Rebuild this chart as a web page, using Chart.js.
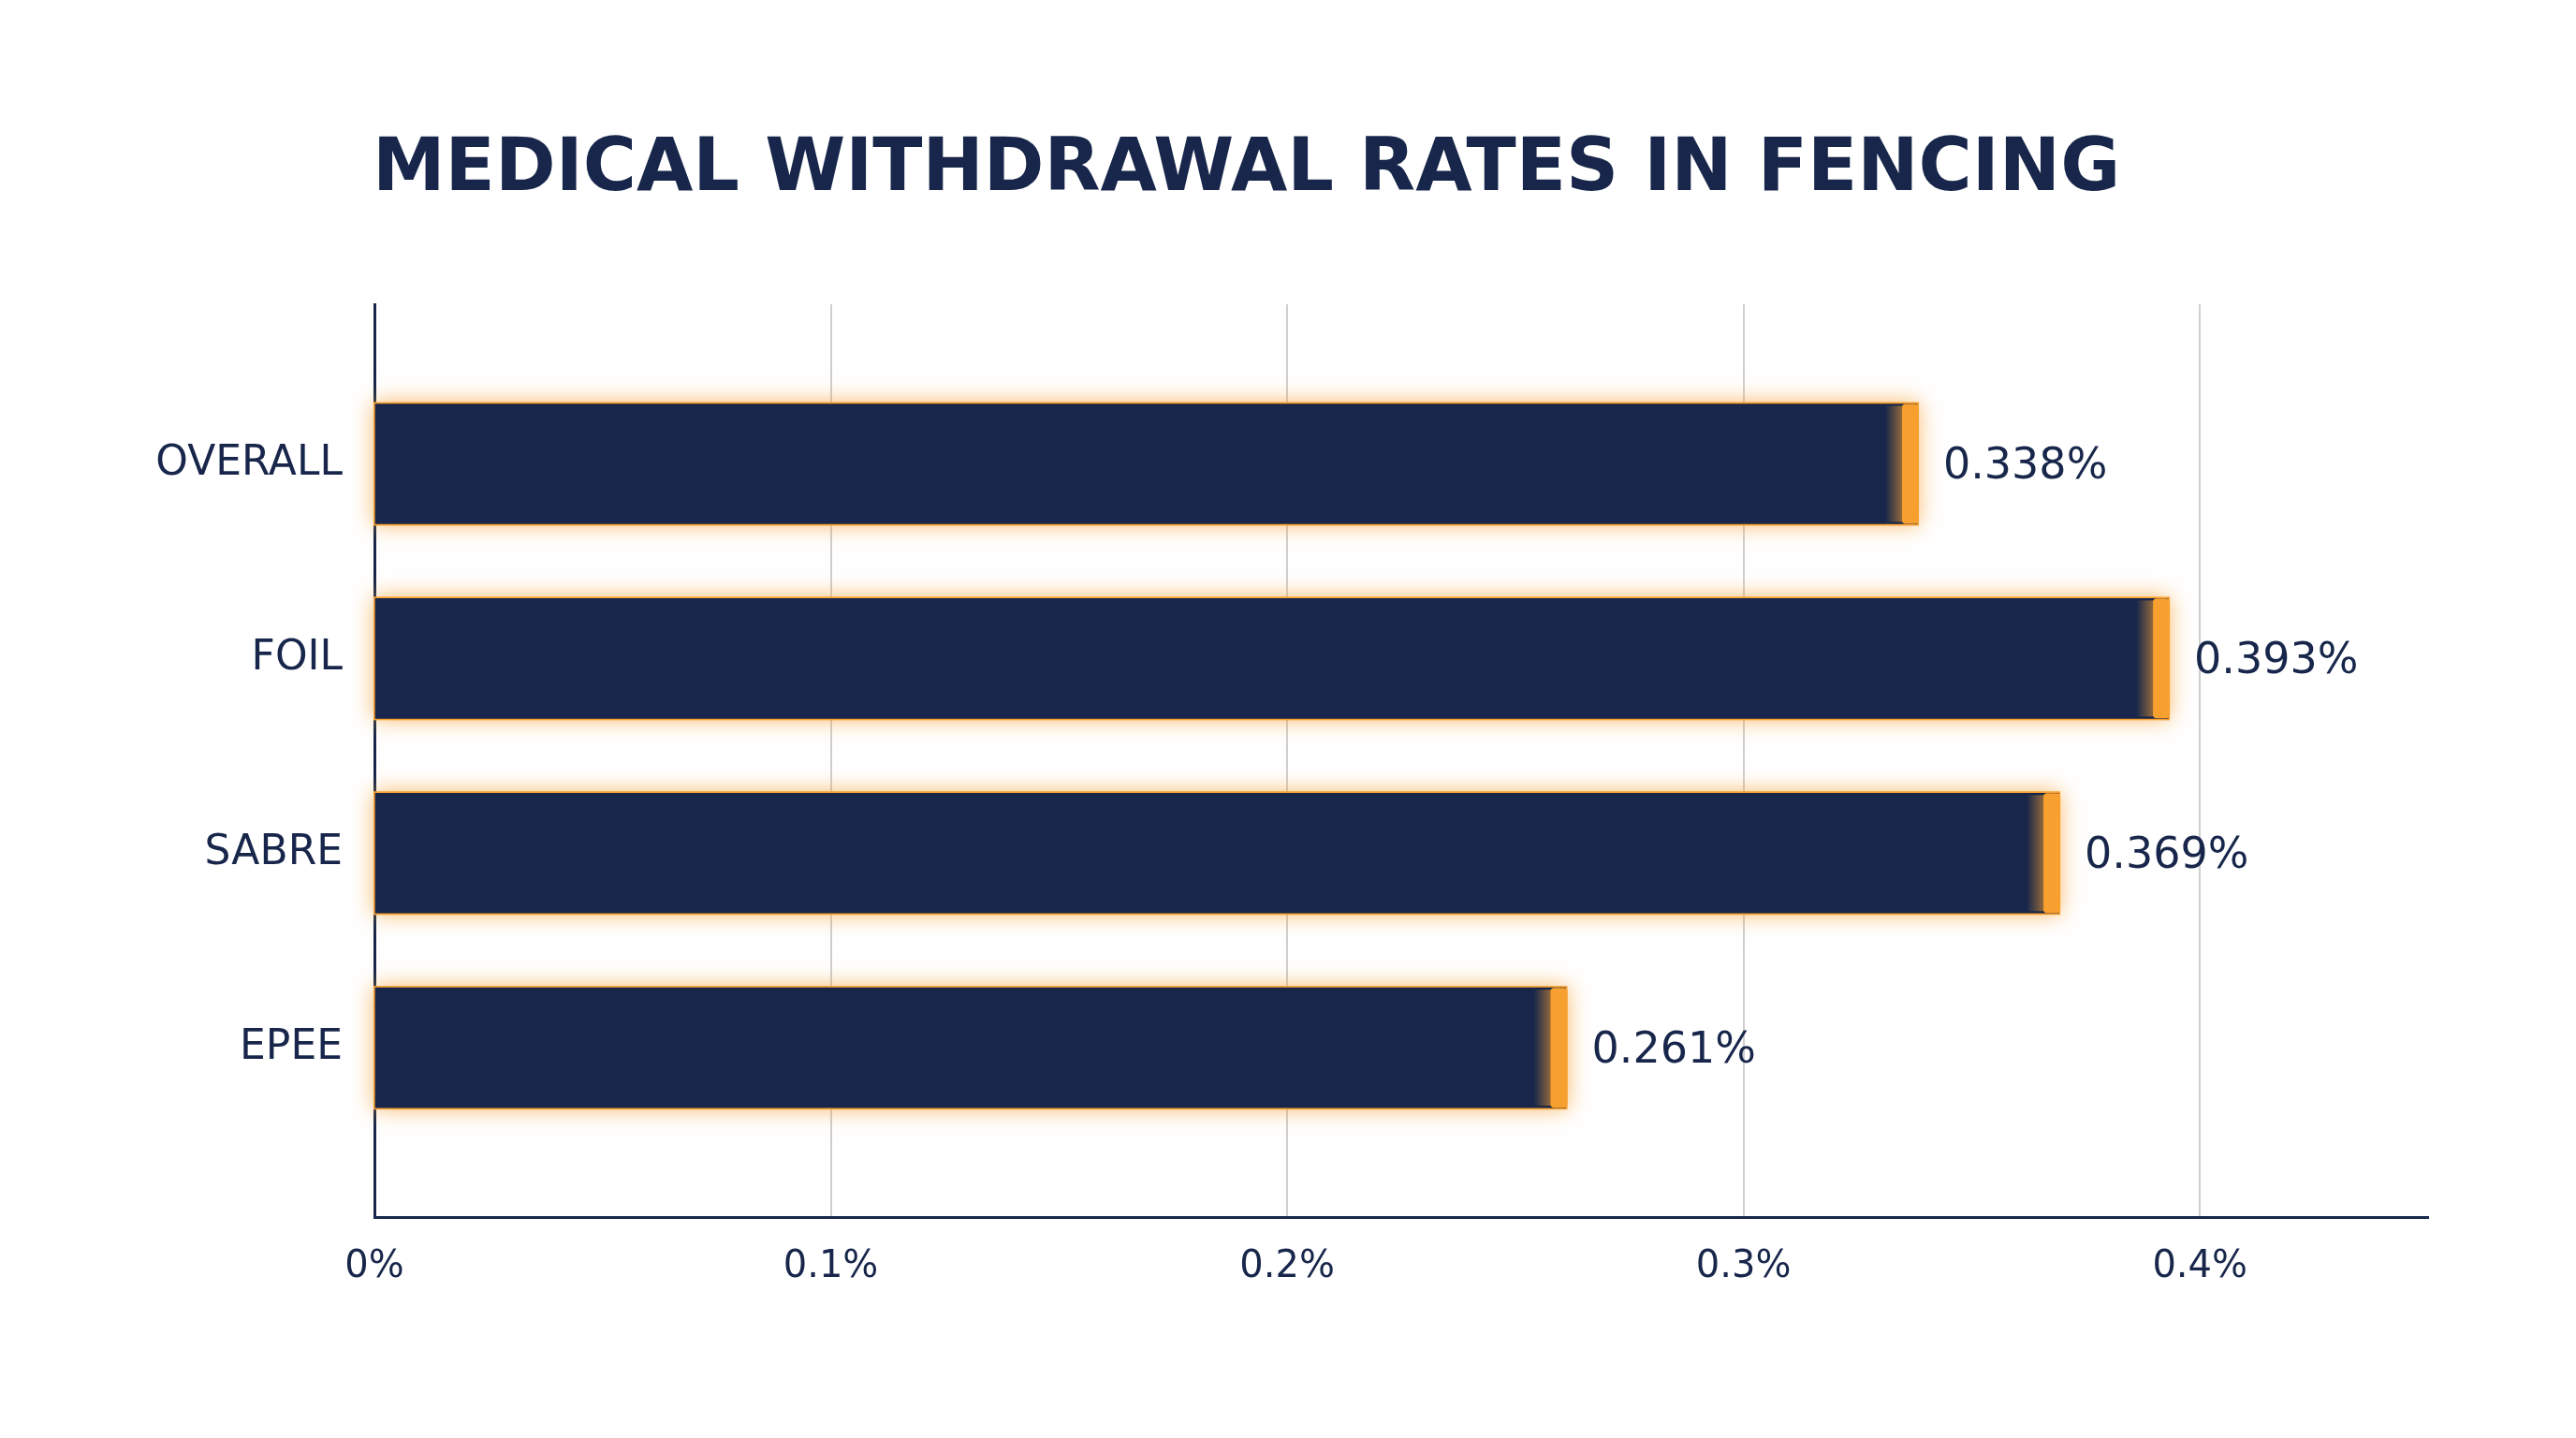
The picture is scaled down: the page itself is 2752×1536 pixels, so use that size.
<!DOCTYPE html>
<html><head><meta charset="utf-8">
<script src="https://cdn.jsdelivr.net/npm/chart.js@4"></script>
<style>html,body{margin:0;padding:0;background:#fff}</style>
</head><body>
<canvas id="c" width="2752" height="1536"></canvas>
<script>
const categories = ["OVERALL", "FOIL", "SABRE", "EPEE"];
const rates = [0.338, 0.393, 0.369, 0.261];
const xTicks = [0, 0.1, 0.2, 0.3, 0.4];
const title = "MEDICAL WITHDRAWAL RATES IN FENCING";

const NAVY = "#17264a", ORANGE = "#f7a030", FONT = "'DejaVu Sans', sans-serif";

const deco = {
  id: "deco",
  beforeDatasetsDraw(chart) {
    const ctx = chart.ctx; ctx.save();
    ctx.shadowColor = "rgba(247,160,48,0.7)"; ctx.shadowBlur = 22;
    chart.getDatasetMeta(0).data.forEach(b => {
      ctx.fillStyle = ORANGE;
      ctx.fillRect(b.base - 2, b.y - b.height / 2 - 2, b.x - b.base + 4, b.height + 4);
    });
    ctx.restore();
  },
  afterDatasetsDraw(chart) {
    const ctx = chart.ctx; ctx.save();
    chart.getDatasetMeta(0).data.forEach((b, i) => {
      const g = ctx.createLinearGradient(b.x - 34, 0, b.x - 14, 0);
      g.addColorStop(0, "rgba(247,160,48,0)"); g.addColorStop(1, "rgba(247,160,48,0.6)");
      ctx.fillStyle = g; ctx.fillRect(b.x - 34, b.y - b.height / 2 + 2, 20, b.height - 4);
      ctx.fillStyle = ORANGE;
      ctx.beginPath();
      ctx.roundRect(b.x - 16, b.y - b.height / 2, 18, b.height, 4);
      ctx.fill();
      ctx.fillStyle = NAVY; ctx.font = "46px " + FONT;
      ctx.textBaseline = "middle"; ctx.textAlign = "left";
      ctx.fillText(rates[i].toFixed(3) + "%", b.x + 28, b.y + 4);
    });
    ctx.fillStyle = NAVY; ctx.font = "bold 78px " + FONT;
    ctx.textBaseline = "middle"; ctx.textAlign = "left";
    ctx.fillText(title, 398, 183);
    ctx.restore();
  }
};

new Chart(document.getElementById("c"), {
  type: "bar",
  data: { datasets: [{
    data: rates.map((v, i) => ({ x: v, y: i })),
    backgroundColor: NAVY, borderWidth: 0, barThickness: 128
  }]},
  options: {
    indexAxis: "y", responsive: false, animation: false, devicePixelRatio: 1,
    layout: { padding: { left: 0, right: 158, top: 325, bottom: 0 } },
    plugins: { legend: { display: false }, tooltip: { enabled: false } },
    scales: {
      x: {
        type: "linear", min: 0, max: 0.45,
        afterBuildTicks: s => { s.ticks = xTicks.map(v => ({ value: v })); },
        ticks: { callback: v => (Math.round(v * 10) / 10) + "%", color: NAVY, font: { family: FONT, size: 40 }, padding: 30 },
        grid: { color: "#cfcfcf", lineWidth: 2, drawTicks: false },
        border: { color: NAVY, width: 3 },
        afterFit: s => { s.height = 1536 - 1300; }
      },
      y: {
        type: "linear", reverse: true, min: -0.82, max: 3.87, offset: false, grace: 0,
        afterBuildTicks: s => { s.ticks = categories.map((c, i) => ({ value: i })); },
        ticks: { callback: v => categories[v], color: NAVY, font: { family: FONT, size: 44 }, padding: 34 },
        grid: { display: false, drawTicks: false },
        border: { color: NAVY, width: 3 },
        afterFit: s => { s.width = 400; }
      }
    }
  },
  plugins: [deco]
});
</script>
</body></html>
